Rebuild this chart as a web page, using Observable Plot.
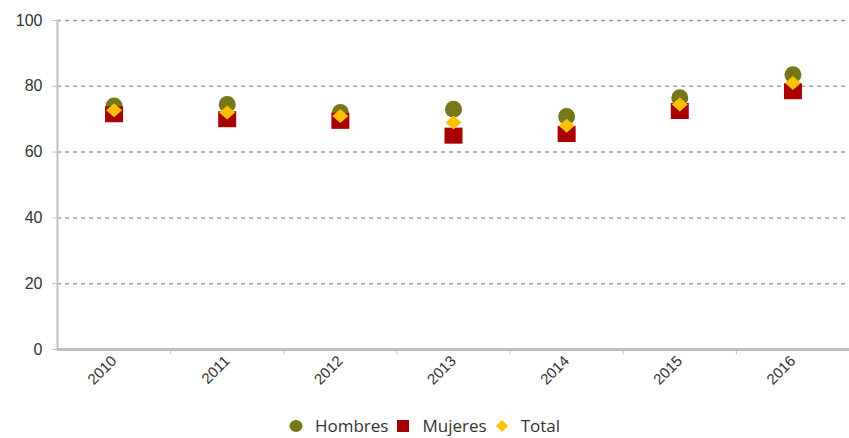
<!DOCTYPE html>
<html>
<head>
<meta charset="utf-8">
<script src="https://cdn.jsdelivr.net/npm/d3@7"></script>
<script src="https://cdn.jsdelivr.net/npm/@observablehq/plot@0.6"></script>
<style>
  html, body { margin: 0; padding: 0; background: #fff; }
  #chart svg { display: block; }
  #legend { display: flex; justify-content: center; align-items: center; height: 24px; margin-top: 2px;
    font-family: "Open Sans", sans-serif; font-size: 17px; line-height: 22px; color: #333; }
  #legend .item { display: flex; align-items: center; margin: 0 4px; }
  #legend svg { margin-right: 12px; }
</style>
</head>
<body>
<div id="chart"></div>
<div id="legend"></div>
<script>
const years = [2010, 2011, 2012, 2013, 2014, 2015, 2016];
const hombres = [74, 74.5, 72, 73, 70.8, 76.5, 83.5];
const mujeres = [71.5, 70, 69.5, 65, 65.5, 72.5, 78.5];
const total = [72.7, 72, 71, 69, 68, 74.5, 81];
const yTicks = [0, 20, 40, 60, 80, 100];
const seriesNames = ["Hombres", "Mujeres", "Total"];
const seriesColors = ["#76761b", "#a80000", "#ffc000"];

const rows = (vals, name) => years.map((y, i) => ({year: y, value: vals[i], serie: name}));
const dataH = rows(hombres, "Hombres");
const dataM = rows(mujeres, "Mujeres");
const dataT = rows(total, "Total");
const boundaries = years.map(y => y + 0.5);

const squareSym = {draw(ctx) { ctx.moveTo(-9, -8); ctx.lineTo(9, -8); ctx.lineTo(9, 8); ctx.lineTo(-9, 8); ctx.closePath(); }};
const diamondSym = {draw(ctx) { ctx.moveTo(0, -7); ctx.lineTo(8, 0); ctx.lineTo(0, 7); ctx.lineTo(-8, 0); ctx.closePath(); }};

const chart = Plot.plot({
  width: 849,
  height: 412,
  marginLeft: 57,
  marginRight: 0,
  marginTop: 20,
  marginBottom: 63,
  style: {fontFamily: "'Liberation Sans', Arial, sans-serif", color: "#333", background: "#fff"},
  x: {domain: [years[0] - 0.5, years[years.length - 1] + 0.5]},
  y: {domain: [0, 100]},
  marks: [
    Plot.gridY(yTicks.filter(d => d > 0), {stroke: "#a0a0a0", strokeOpacity: 1, strokeDasharray: "4,4", strokeWidth: 1.5}),
    Plot.axisY(yTicks, {tickSize: 5, tickPadding: 10, fontSize: 16, stroke: "#bfbfbf", fill: "#333", label: null}),
    Plot.axisX(years, {tickSize: 0, tickPadding: 9, tickRotate: -45, fontSize: 15, tickFormat: d => String(d), fill: "#333", label: null}),
    Plot.axisX(boundaries, {tickSize: 5, tickFormat: () => "", stroke: "#bfbfbf", label: null}),
    Plot.ruleX([years[0] - 0.5], {y1: 0, y2: 100, stroke: "#bfbfbf", strokeWidth: 2}),
    Plot.ruleY([0], {stroke: "#bfbfbf", strokeWidth: 3}),
    Plot.dot(dataH, {x: "year", y: "value", r: 8.5, symbol: "circle", fill: seriesColors[0]}),
    Plot.dot(dataM, {x: "year", y: "value", r: 9, symbol: squareSym, fill: seriesColors[1]}),
    Plot.dot(dataT, {x: "year", y: "value", r: 8, symbol: diamondSym, fill: seriesColors[2]})
  ]
});
document.getElementById("chart").append(chart);

const shapes = [
  '<ellipse cx="7" cy="7" rx="6.5" ry="6" fill="COLOR"/>',
  '<rect x="1" y="1" width="12" height="12" fill="COLOR"/>',
  '<path d="M7 1 L13 7 L7 13 L1 7 Z" fill="COLOR"/>'
];
const legend = document.getElementById("legend");
seriesNames.forEach((name, i) => {
  const item = document.createElement("div");
  item.className = "item";
  item.innerHTML = `<svg width="14" height="14">${shapes[i].replace("COLOR", seriesColors[i])}</svg><span>${name}</span>`;
  legend.append(item);
});
</script>
</body>
</html>
